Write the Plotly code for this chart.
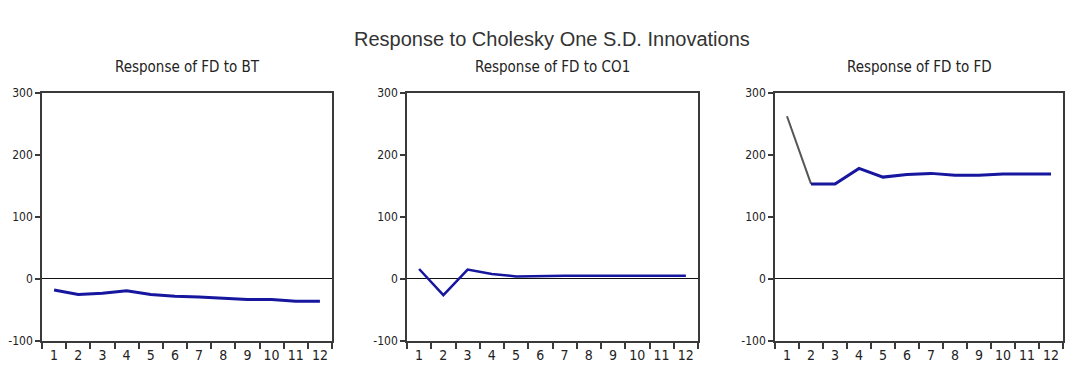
import plotly.graph_objects as go

# Impulse responses of FD over a 12-period horizon
periods = list(range(1, 13))
resp_fd_to_bt = [-18, -25, -23, -19, -25, -28, -29, -31, -33, -33, -36, -36]
resp_fd_to_co1 = [16, -26, 15, 8, 4, 5, 5, 5, 5, 5, 5, 5]
resp_fd_to_fd = [262, 153, 153, 178, 164, 168, 170, 167, 167, 169, 169, 169]

panel_titles = ["Response of FD to BT", "Response of FD to CO1", "Response of FD to FD"]
main_title = "Response to Cholesky One S.D. Innovations"
y_ticks = [-100, 0, 100, 200, 300]
y_tick_text = ["-100", "0", "100", "200", "300"]

W, H = 1065, 374
x_domains = [(42 / W, 332 / W), (407 / W, 698 / W), (775 / W, 1063 / W)]
y_domain = ((H - 347) / H, (H - 89) / H)

line_blue = "#16169e"
frame = "#3a3a3a"
narrow = "Liberation Sans Narrow, Arial Narrow, DejaVu Sans Condensed, sans-serif"

fig = go.Figure()
series = [resp_fd_to_bt, resp_fd_to_co1, resp_fd_to_fd]
widths = [3, 2.5, 3]

for i, vals in enumerate(series):
    ax = "" if i == 0 else str(i + 1)
    if i == 2:
        # opening segment of the own-shock response is drawn thinner in grey
        fig.add_trace(go.Scatter(x=periods[:2], y=vals[:2], mode="lines",
                                 line=dict(color="#555555", width=2),
                                 xaxis="x" + ax, yaxis="y" + ax, showlegend=False))
        fig.add_trace(go.Scatter(x=periods[1:], y=vals[1:], mode="lines",
                                 line=dict(color=line_blue, width=widths[i]),
                                 xaxis="x" + ax, yaxis="y" + ax, showlegend=False))
    else:
        fig.add_trace(go.Scatter(x=periods, y=vals, mode="lines",
                                 line=dict(color=line_blue, width=widths[i]),
                                 xaxis="x" + ax, yaxis="y" + ax, showlegend=False))

    xa = dict(domain=list(x_domains[i]), range=[0.5, 12.5], anchor="y" + ax,
              tickmode="array", tickvals=periods, ticktext=[str(p) for p in periods],
              ticks="", showgrid=False, zeroline=False,
              showline=True, mirror=True, linecolor=frame, linewidth=1.5,
              tickfont=dict(family=narrow, size=14, color="#222222"),
              minor=dict(tickmode="array", tickvals=[p - 0.5 for p in periods] + [12.5],
                         ticks="outside", ticklen=6, tickcolor=frame, tickwidth=1.5,
                         showgrid=False))
    ya = dict(domain=list(y_domain), range=[-100, 300], anchor="x" + ax,
              tickmode="array", tickvals=y_ticks, ticktext=y_tick_text,
              ticks="outside", ticklen=5, tickcolor=frame, tickwidth=1.5,
              showgrid=False, zeroline=True, zerolinecolor="#111111", zerolinewidth=1,
              showline=True, mirror=True, linecolor=frame, linewidth=1.5,
              tickfont=dict(family=narrow, size=12, color="#222222"))
    fig.layout["xaxis" + ax] = xa
    fig.layout["yaxis" + ax] = ya

    cx = (x_domains[i][0] + x_domains[i][1]) / 2
    fig.add_annotation(text=panel_titles[i], x=cx, y=(H - 62) / H, xref="paper", yref="paper",
                       showarrow=False, xanchor="center", yanchor="middle",
                       font=dict(family=narrow, size=15, color="#222222"))

fig.add_annotation(text=main_title, x=552 / W, y=(H - 33) / H, xref="paper", yref="paper",
                   showarrow=False, xanchor="center", yanchor="middle",
                   font=dict(family="Liberation Sans, Arial, sans-serif", size=20, color="#333333"))

fig.update_layout(width=W, height=H, margin=dict(l=0, r=0, t=0, b=0),
                  paper_bgcolor="white", plot_bgcolor="white")

fig.write_html("out.html")
